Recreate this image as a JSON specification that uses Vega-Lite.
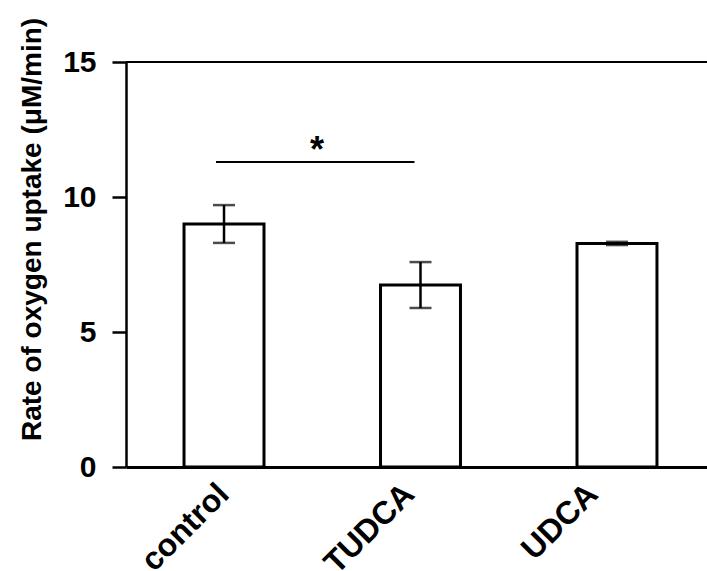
{
  "$schema": "https://vega.github.io/schema/vega-lite/v6.json",
  "autosize": {"type": "none"},
  "width": 581,
  "height": 405,
  "padding": {"left": 126, "top": 62, "right": 0, "bottom": 104},
  "background": "white",
  "config": {
    "view": {"stroke": null},
    "font": "Liberation Sans",
    "axis": {"grid": false, "domainColor": "black", "tickColor": "black", "labelColor": "black", "titleColor": "black"}
  },
  "datasets": {
    "bars": [
      {"group": "control", "mean": 9.0, "lo": 8.3, "hi": 9.7},
      {"group": "TUDCA", "mean": 6.74, "lo": 5.89, "hi": 7.59},
      {"group": "UDCA", "mean": 8.28, "lo": 8.22, "hi": 8.34}
    ],
    "sig": [
      {"from": "control", "to": "TUDCA", "y": 11.3, "ystar": 11.28, "label": "*"}
    ]
  },
  "layer": [
    {
      "data": {"name": "bars"},
      "mark": {"type": "bar", "fill": "white", "stroke": "black", "strokeWidth": 3},
      "encoding": {
        "x": {
          "field": "group", "type": "nominal", "sort": null,
          "scale": {"domain": ["control", "TUDCA", "UDCA"], "paddingInner": 0.593, "paddingOuter": 0.275, "align": 0.537},
          "axis": {
            "title": null, "ticks": false, "domainWidth": 3, "labelAngle": -45,
            "labelFontSize": 32, "labelFontWeight": "bold", "labelPadding": 11,
            "labelOffset": {"condition": [{"test": "datum.value === 'control'", "value": -11}, {"test": "datum.value === 'TUDCA'", "value": -22}], "value": -35}
          }
        },
        "y": {
          "field": "mean", "type": "quantitative",
          "scale": {"domain": [0, 15], "nice": false},
          "axis": {
            "title": "Rate of oxygen uptake (μM/min)",
            "titleFontSize": 28, "titleFontWeight": "bold",
            "titleX": -94, "titleY": 167, "titleAngle": -90, "titleBaseline": "middle", "titleAlign": "center",
            "values": [0, 5, 10, 15], "domainWidth": 2.5, "tickSize": 14, "tickWidth": 2.5,
            "labelFontSize": 30, "labelFontWeight": "bold", "labelPadding": 16
          }
        }
      }
    },
    {
      "data": {"name": "bars"},
      "mark": {"type": "rule", "color": "black", "strokeWidth": 2.5},
      "encoding": {
        "x": {"field": "group", "type": "nominal", "sort": null},
        "y": {"field": "lo", "type": "quantitative"},
        "y2": {"field": "hi"}
      }
    },
    {
      "data": {"name": "bars"},
      "mark": {"type": "tick", "color": "black", "size": 22, "thickness": 2.5, "orient": "horizontal"},
      "encoding": {
        "x": {"field": "group", "type": "nominal", "sort": null},
        "y": {"field": "lo", "type": "quantitative"}
      }
    },
    {
      "data": {"name": "bars"},
      "mark": {"type": "tick", "color": "black", "size": 22, "thickness": 2.5, "orient": "horizontal"},
      "encoding": {
        "x": {"field": "group", "type": "nominal", "sort": null},
        "y": {"field": "hi", "type": "quantitative"}
      }
    },
    {
      "data": {"name": "sig"},
      "mark": {"type": "rule", "color": "black", "strokeWidth": 2},
      "encoding": {"y": {"datum": 15}}
    },
    {
      "data": {"name": "sig"},
      "mark": {"type": "rule", "color": "black", "strokeWidth": 2, "xOffset": -8, "x2Offset": -6},
      "encoding": {
        "x": {"field": "from", "type": "nominal", "sort": null},
        "x2": {"field": "to"},
        "y": {"field": "y", "type": "quantitative"}
      }
    },
    {
      "data": {"name": "sig"},
      "mark": {"type": "text", "fontSize": 36, "fontWeight": "bold", "baseline": "alphabetic", "align": "center", "dx": 93},
      "encoding": {
        "x": {"field": "from", "type": "nominal", "sort": null},
        "y": {"field": "ystar", "type": "quantitative"},
        "text": {"field": "label"}
      }
    }
  ]
}
